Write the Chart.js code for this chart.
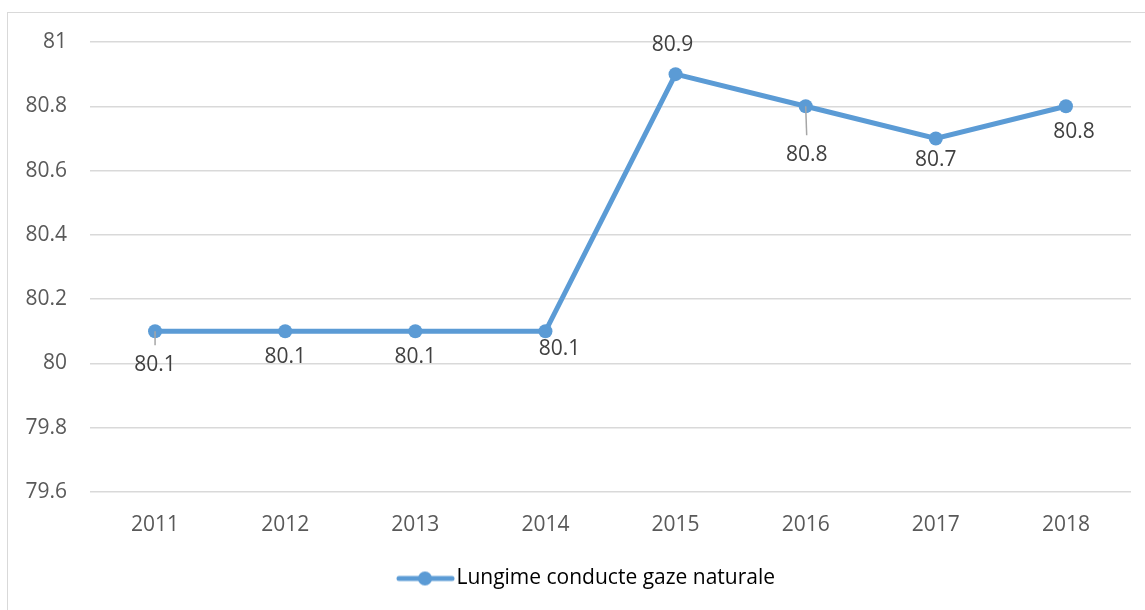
<!DOCTYPE html>
<html>
<head>
<meta charset="utf-8">
<script src="https://cdn.jsdelivr.net/npm/chart.js@4/dist/chart.umd.min.js"></script>
<style>
    html, body { margin: 0; padding: 0; background: #fff; }
    #wrap { position: relative; width: 1145px; height: 610px; }
</style>
</head>
<body>
<div id="wrap">
    <canvas id="line_chart" width="1145" height="610"></canvas>
</div>
<script>

// Data
// ------------------------------

var years = ['2011', '2012', '2013', '2014', '2015', '2016', '2017', '2018'];
var lungime = [80.1, 80.1, 80.1, 80.1, 80.9, 80.8, 80.7, 80.8];
var seriesName = 'Lungime conducte gaze naturale';
var yTicks = [79.6, 79.8, 80, 80.2, 80.4, 80.6, 80.8, 81];

// label placement (dx, dy from point), like the excel chart
var labelOffsets = [[0, 34], [0, 26], [0, 26], [14, 18], [-3, -29], [1, 49], [0, 22], [8, 26]];

var blue = '#5B9BD5';
var grey = '#595959';
var fontFamily = '"Open Sans", "Liberation Sans", sans-serif';
var fontSize = 21;


// Legend symbol: line with a marker (drawn on the right of a wider image)
// ------------------------------

var legendIcon = document.createElement('canvas');
legendIcon.width = 108;
legendIcon.height = 16;
(function () {
    var c = legendIcon.getContext('2d');
    c.strokeStyle = blue;
    c.lineWidth = 5;
    c.lineCap = 'round';
    c.beginPath();
    c.moveTo(52, 8);
    c.lineTo(105, 8);
    c.stroke();
    c.fillStyle = blue;
    c.beginPath();
    c.arc(78, 8, 7, 0, Math.PI * 2);
    c.fill();
})();


// Plugins
// ------------------------------

var frame = {
    id: 'frame',
    beforeDraw: function (chart) {
        var ctx = chart.ctx;
        ctx.save();
        ctx.fillStyle = '#fff';
        ctx.fillRect(0, 0, chart.width, chart.height);
        ctx.strokeStyle = '#D9D9D9';
        ctx.lineWidth = 1;
        ctx.strokeRect(7.5, 12.5, chart.width + 20, chart.height + 20);
        ctx.restore();
    }
};

var valueLabels = {
    id: 'valueLabels',
    afterDatasetsDraw: function (chart) {
        var ctx = chart.ctx;
        var meta = chart.getDatasetMeta(0);
        ctx.save();
        ctx.font = fontSize + 'px ' + fontFamily;
        ctx.textAlign = 'center';
        ctx.textBaseline = 'middle';
        meta.data.forEach(function (pt, i) {
            var off = labelOffsets[i];
            var lx = pt.x + off[0];
            var ly = pt.y + off[1];
            // leader line when the label sits far from the point
            if (off[1] > 30) {
                ctx.strokeStyle = '#A6A6A6';
                ctx.lineWidth = 1.5;
                ctx.beginPath();
                ctx.moveTo(pt.x, pt.y);
                ctx.lineTo(lx, ly - 20);
                ctx.stroke();
            }
            ctx.fillStyle = '#404040';
            ctx.fillText(String(chart.data.datasets[0].data[i]), lx, ly);
        });
        ctx.restore();
    }
};


// Chart setup
// ------------------------------

var line_options = {
    type: 'line',
    data: {
        labels: years,
        datasets: [{
            label: seriesName,
            data: lungime,
            borderColor: blue,
            backgroundColor: blue,
            borderWidth: 5,
            pointRadius: 7,
            pointHoverRadius: 7,
            pointBackgroundColor: blue,
            pointBorderWidth: 0,
            tension: 0
        }]
    },
    options: {
        responsive: false,
        animation: false,
        layout: {
            padding: { left: 0, top: 42, right: 14, bottom: 11 }
        },
        plugins: {
            tooltip: { enabled: false },
            legend: {
                position: 'bottom',
                labels: {
                    usePointStyle: true,
                    pointStyleWidth: 90,
                    padding: 14,
                    color: grey,
                    font: { family: fontFamily, size: fontSize },
                    generateLabels: function (chart) {
                        return [{
                            text: seriesName,
                            pointStyle: legendIcon,
                            fillStyle: blue,
                            strokeStyle: blue,
                            lineWidth: 0,
                            datasetIndex: 0
                        }];
                    }
                }
            }
        },
        scales: {
            x: {
                offset: true,
                grid: { display: false, drawTicks: false },
                border: { display: false },
                ticks: {
                    padding: 20,
                    color: grey,
                    font: { family: fontFamily, size: fontSize }
                },
                afterFit: function (scale) { scale.height = 62; }
            },
            y: {
                min: 79.6,
                max: 81,
                grid: { color: '#D9D9D9', lineWidth: 1.5, drawTicks: false },
                border: { display: false },
                afterBuildTicks: function (scale) {
                    scale.ticks = yTicks.map(function (v) { return { value: v }; });
                },
                ticks: {
                    padding: 23,
                    color: grey,
                    font: { family: fontFamily, size: fontSize },
                    callback: function (v) { return String(Math.round(v * 10) / 10); }
                },
                afterFit: function (scale) { scale.width = 90; }
            }
        }
    },
    plugins: [frame, valueLabels]
};

var line_chart = new Chart(document.getElementById('line_chart'), line_options);

</script>
</body>
</html>
